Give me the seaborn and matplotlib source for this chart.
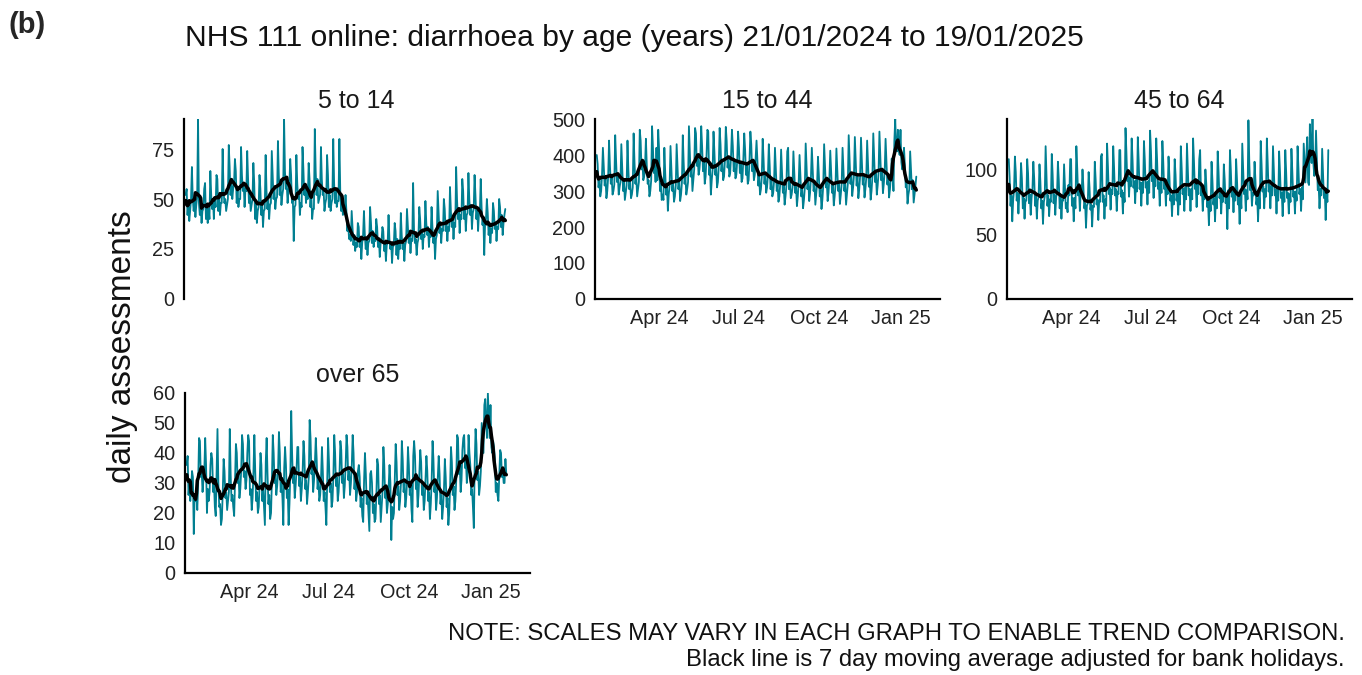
import numpy as np
import pandas as pd
import matplotlib
matplotlib.use("Agg")
import matplotlib.pyplot as plt
import seaborn as sns

# ---------------- data ----------------
start_date = "2024-01-21"
end_date = "2025-01-19"
panel_titles = ["5 to 14", "15 to 44", "45 to 64", "over 65"]
x_tick_dates = ["2024-04-01", "2024-07-01", "2024-10-01", "2025-01-01"]
x_tick_labels = ["Apr 24", "Jul 24", "Oct 24", "Jan 25"]
y_ticks_5_14 = [0, 25, 50, 75]
y_ticks_15_44 = [0, 100, 200, 300, 400, 500]
y_ticks_45_64 = [0, 50, 100]
y_ticks_over_65 = [0, 10, 20, 30, 40, 50, 60]

daily_5_14 = [
    52, 55, 42, 48, 39, 44, 50,
    66, 50, 44, 49, 41, 47, 51,
    90, 48, 42, 46, 38, 44, 45,
    55, 58, 40, 47, 38, 45, 40,
    64, 52, 45, 50, 40, 51, 46,
    62, 60, 44, 52, 42, 48, 48,
    75, 55, 48, 50, 44, 47, 50,
    77, 66, 52, 60, 50, 55, 58,
    70, 64, 48, 55, 46, 50, 50,
    76, 62, 54, 58, 46, 55, 54,
    74, 60, 48, 52, 44, 47, 50,
    68, 58, 40, 48, 38, 44, 46,
    62, 55, 42, 48, 36, 44, 45,
    72, 54, 45, 50, 40, 47, 48,
    74, 62, 50, 56, 45, 50, 51,
    79, 62, 52, 58, 47, 52, 55,
    90, 64, 55, 58, 48, 54, 57,
    70, 62, 48, 50, 29, 46, 47,
    72, 58, 50, 54, 42, 48, 46,
    76, 65, 52, 56, 48, 54, 50,
    68, 60, 46, 52, 40, 45, 45,
    85, 64, 52, 60, 48, 50, 52,
    76, 60, 52, 55, 44, 48, 50,
    72, 62, 46, 52, 44, 48, 50,
    80, 58, 48, 55, 46, 49, 49,
    80, 54, 44, 50, 42, 46, 44,
    52, 44, 34, 38, 30, 32, 29,
    44, 36, 27, 32, 24, 28, 26,
    38, 36, 26, 30, 20, 28, 32,
    44, 32, 25, 30, 22, 28, 29,
    46, 38, 28, 34, 26, 30, 29,
    40, 36, 26, 30, 21, 28, 29,
    36, 34, 24, 28, 19, 27, 28,
    42, 30, 25, 28, 18, 26, 27,
    38, 34, 22, 30, 20, 27, 25,
    43, 32, 25, 28, 19, 27, 29,
    45, 37, 28, 32, 23, 30, 29,
    58, 35, 28, 30, 22, 28, 30,
    46, 40, 30, 34, 25, 32, 31,
    49, 38, 32, 36, 26, 33, 31,
    46, 36, 28, 32, 20, 30, 32,
    54, 44, 33, 38, 28, 35, 34,
    50, 45, 34, 38, 29, 36, 34,
    56, 44, 36, 40, 30, 38, 36,
    66, 50, 40, 45, 33, 42, 40,
    60, 54, 40, 46, 34, 42, 43,
    63, 50, 42, 47, 35, 43, 45,
    62, 52, 40, 45, 34, 43, 43,
    60, 46, 37, 41, 22, 38, 40,
    50, 43, 32, 38, 28, 35, 33,
    48, 44, 35, 38, 29, 36, 35,
    50, 46, 36, 42, 32, 38, 42,
    45,
]

daily_15_44 = [
    400, 375, 310, 330, 285, 300, 345,
    420, 370, 315, 335, 280, 300, 340,
    440, 372, 320, 340, 290, 300, 318,
    455, 385, 325, 345, 290, 310, 326,
    430, 365, 300, 330, 275, 295, 315,
    440, 360, 305, 325, 280, 290, 310,
    460, 380, 320, 340, 285, 305, 325,
    470, 440, 360, 385, 330, 340, 370,
    445, 370, 320, 330, 285, 300, 330,
    480, 420, 350, 370, 325, 420, 330,
    470, 415, 300, 320, 275, 290, 275,
    420, 350, 290, 315, 245, 290, 316,
    425, 360, 300, 320, 270, 285, 315,
    430, 365, 305, 325, 272, 290, 323,
    455, 380, 320, 340, 290, 305, 325,
    480, 410, 340, 370, 300, 330, 360,
    475, 460, 370, 395, 345, 360, 395,
    480, 425, 355, 380, 320, 340, 395,
    470, 465, 345, 365, 290, 330, 360,
    465, 410, 345, 365, 310, 325, 370,
    475, 430, 355, 380, 330, 340, 385,
    478, 440, 365, 390, 340, 350, 400,
    470, 425, 355, 380, 335, 345, 385,
    465, 420, 350, 375, 325, 335, 390,
    460, 415, 345, 370, 320, 330, 385,
    465, 430, 355, 380, 330, 345, 390,
    440, 385, 315, 340, 290, 305, 340,
    445, 390, 320, 345, 295, 310, 345,
    430, 372, 305, 330, 285, 295, 328,
    420, 360, 300, 320, 270, 285, 320,
    415, 355, 295, 315, 262, 285, 313,
    410, 420, 305, 330, 280, 290, 310,
    410, 355, 295, 315, 258, 285, 322,
    400, 345, 285, 305, 252, 275, 308,
    432, 372, 305, 330, 272, 295, 339,
    420, 362, 300, 320, 262, 290, 321,
    395, 345, 285, 305, 250, 275, 315,
    430, 372, 310, 330, 272, 295, 336,
    412, 356, 295, 315, 260, 285, 317,
    418, 362, 300, 320, 264, 290, 321,
    420, 362, 300, 320, 262, 290, 321,
    455, 390, 320, 345, 286, 310, 344,
    450, 384, 315, 340, 280, 305, 341,
    448, 385, 318, 340, 282, 305, 337,
    440, 378, 312, 335, 276, 300, 339,
    460, 395, 325, 350, 290, 315, 350,
    465, 400, 330, 355, 294, 320, 356,
    445, 385, 318, 340, 282, 305, 340,
    390, 360, 300, 440, 500, 420, 410,
    470, 420, 400, 470, 380, 360, 380,
    420, 370, 310, 330, 265, 290, 305,
    410, 360, 305, 330, 268, 290, 313,
    340,
]

daily_45_64 = [
    108, 94, 72, 80, 60, 76, 84,
    110, 98, 76, 82, 66, 80, 83,
    105, 93, 70, 78, 62, 76, 76,
    108, 97, 74, 81, 65, 78, 85,
    106, 93, 72, 79, 62, 76, 79,
    104, 91, 70, 76, 58, 75, 79,
    118, 95, 72, 80, 64, 77, 75,
    112, 96, 74, 81, 65, 79, 81,
    106, 92, 70, 78, 62, 76, 76,
    104, 88, 70, 74, 67, 88, 80,
    108, 108, 72, 78, 60, 78, 70,
    118, 101, 80, 85, 68, 83, 81,
    100, 87, 70, 74, 55, 72, 74,
    98, 86, 69, 73, 56, 72, 71,
    106, 92, 73, 77, 61, 76, 75,
    110, 112, 75, 80, 62, 77, 72,
    120, 102, 81, 86, 69, 84, 81,
    118, 101, 80, 85, 68, 83, 81,
    115, 115, 79, 84, 66, 82, 75,
    132, 114, 91, 96, 79, 94, 87,
    124, 108, 86, 91, 74, 92, 83,
    125, 107, 85, 90, 72, 90, 82,
    122, 107, 86, 90, 73, 91, 82,
    130, 114, 91, 96, 78, 97, 87,
    124, 107, 85, 90, 72, 91, 82,
    122, 106, 85, 89, 72, 89, 81,
    110, 95, 76, 80, 64, 83, 73,
    108, 96, 76, 81, 65, 82, 73,
    118, 101, 81, 85, 68, 86, 77,
    120, 101, 80, 85, 68, 85, 77,
    124, 106, 85, 89, 71, 88, 81,
    108, 115, 80, 85, 68, 83, 77,
    100, 89, 71, 75, 57, 79, 68,
    106, 92, 73, 78, 60, 81, 70,
    114, 98, 78, 82, 66, 82, 75,
    104, 92, 74, 78, 54, 84, 70,
    115, 99, 79, 83, 67, 83, 76,
    108, 92, 73, 78, 58, 81, 70,
    120, 101, 81, 85, 68, 84, 77,
    138, 106, 84, 89, 72, 82, 80,
    106, 92, 73, 78, 60, 81, 70,
    122, 104, 83, 87, 70, 85, 79,
    124, 105, 83, 88, 70, 87, 80,
    118, 100, 80, 84, 66, 85, 76,
    114, 98, 78, 82, 64, 84, 75,
    115, 98, 78, 82, 66, 81, 75,
    116, 99, 79, 83, 66, 83, 76,
    118, 101, 81, 85, 68, 86, 77,
    120, 105, 90, 110, 125, 90, 88,
    135, 118, 105, 139, 105, 95, 100,
    130, 106, 84, 88, 70, 85, 80,
    116, 98, 78, 84, 61, 82, 75,
    115,
]

daily_over_65 = [
    36, 39, 26, 30, 24, 28, 34,
    32, 13, 26, 24, 26, 21, 30,
    45, 44, 32, 34, 27, 31, 34,
    45, 36, 20, 28, 24, 27, 36,
    40, 38, 27, 30, 22, 19, 34,
    48, 30, 22, 23, 16, 18, 27,
    38, 34, 25, 27, 21, 24, 27,
    48, 33, 24, 26, 22, 19, 31,
    43, 40, 30, 33, 25, 28, 34,
    46, 43, 32, 34, 28, 31, 40,
    46, 44, 26, 28, 21, 25, 34,
    46, 34, 24, 27, 20, 22, 30,
    40, 36, 24, 28, 22, 16, 37,
    45, 33, 23, 26, 18, 20, 31,
    46, 40, 30, 33, 26, 29, 34,
    47, 40, 27, 30, 25, 16, 35,
    42, 36, 25, 28, 16, 23, 33,
    54, 40, 30, 33, 25, 29, 34,
    42, 42, 29, 32, 24, 28, 34,
    44, 39, 28, 31, 23, 27, 32,
    51, 45, 33, 35, 27, 31, 37,
    45, 38, 28, 31, 24, 26, 32,
    42, 34, 24, 27, 22, 16, 31,
    45, 37, 27, 30, 22, 24, 32,
    46, 40, 29, 32, 24, 27, 33,
    44, 41, 30, 33, 25, 29, 36,
    46, 42, 31, 34, 26, 30, 36,
    46, 40, 28, 32, 24, 27, 34,
    36, 32, 22, 25, 19, 17, 31,
    40, 33, 23, 26, 20, 14, 33,
    34, 30, 20, 23, 17, 18, 26,
    38, 36, 23, 26, 17, 22, 27,
    42, 36, 25, 28, 20, 23, 29,
    36, 30, 11, 22, 18, 20, 31,
    43, 37, 26, 29, 21, 24, 30,
    44, 38, 27, 30, 22, 25, 31,
    42, 36, 26, 29, 21, 17, 39,
    44, 39, 28, 31, 22, 26, 34,
    41, 37, 26, 29, 21, 24, 32,
    39, 34, 24, 27, 18, 23, 31,
    44, 38, 27, 30, 21, 25, 32,
    39, 33, 23, 26, 18, 22, 28,
    38, 32, 22, 25, 16, 20, 29,
    42, 37, 26, 29, 21, 24, 31,
    46, 45, 33, 36, 27, 31, 41,
    45, 46, 35, 38, 30, 33, 46,
    40, 36, 26, 28, 22, 15, 36,
    48, 43, 31, 34, 26, 29, 34,
    50, 45, 40, 56, 58, 50, 45,
    60, 52, 45, 56, 42, 40, 44,
    42, 38, 27, 30, 26, 24, 33,
    41, 40, 32, 34, 30, 30, 38,
    33,
]

# ---------------- build table ----------------
dates = pd.date_range(start_date, end_date, freq="D")
series = [daily_5_14, daily_15_44, daily_45_64, daily_over_65]
frames = []
for title, vals in zip(panel_titles, series):
    df = pd.DataFrame({"date": dates, "value": vals, "age": title})
    df["ma"] = df["value"].rolling(7, center=True, min_periods=1).mean()
    frames.append(df)
data = pd.concat(frames, ignore_index=True)

# ---------------- style ----------------
sns.set_style("white")
plt.rcParams["font.family"] = ["Liberation Sans", "DejaVu Sans"]

TEAL = "#007F91"
W, H = 1362, 675
fig = plt.figure(figsize=(W / 100, H / 100), dpi=100)

# panel boxes in pixels: left, right, top, bottom
boxes = [
    (184, 529, 119, 299),
    (595, 940, 119, 299),
    (1007, 1352, 119, 299),
    (185, 530, 393, 573),
]
yticks_all = [y_ticks_5_14, y_ticks_15_44, y_ticks_45_64, y_ticks_over_65]
xlim = (pd.Timestamp("2024-01-19"), pd.Timestamp("2025-02-15"))

for i, (title, box, yt) in enumerate(zip(panel_titles, boxes, yticks_all)):
    l, r, t, b = box
    ax = fig.add_axes([l / W, 1 - b / H, (r - l) / W, (b - t) / H])
    sub = data[data["age"] == title]
    sns.lineplot(data=sub, x="date", y="value", ax=ax, color=TEAL,
                 linewidth=1.3, estimator=None)
    sns.lineplot(data=sub, x="date", y="ma", ax=ax, color="black",
                 linewidth=2.5, estimator=None)
    ax.set_xlim(*xlim)
    ax.set_ylim(0, sub["value"].max())
    ax.set_yticks(yt)
    ax.set_xlabel("")
    ax.set_ylabel("")
    for s in ["top", "right"]:
        ax.spines[s].set_visible(False)
    for s in ["left", "bottom"]:
        ax.spines[s].set_linewidth(1.6)
        ax.spines[s].set_color("black")
    ax.tick_params(axis="both", direction="out", length=4, width=1.2,
                   color="black", labelsize=14.3, labelcolor="#222222", pad=3)
    ax.set_xticks(pd.to_datetime(x_tick_dates))
    if i == 0:
        ax.spines["bottom"].set_visible(False)
        ax.tick_params(axis="x", bottom=False, labelbottom=False)
    else:
        ax.set_xticklabels(x_tick_labels)
    ax.set_title(title, fontsize=18, color="#1a1a1a", pad=8)
    ax.patch.set_alpha(0)

fig.text(8 / W, 1 - 25 / H, "(b)", fontsize=21, fontweight="bold",
         ha="left", va="center")
fig.text(185 / W, 1 - 38 / H,
         "NHS 111 online: diarrhoea by age (years) 21/01/2024 to 19/01/2025",
         fontsize=21.6, ha="left", va="center", color="#111111")
fig.text(122 / W, 1 - 347 / H, "daily assessments", fontsize=24,
         rotation=90, ha="center", va="center", color="#111111")
fig.text(1345 / W, 1 - 634 / H,
         "NOTE: SCALES MAY VARY IN EACH GRAPH TO ENABLE TREND COMPARISON.",
         fontsize=17.2, ha="right", va="center", color="#111111")
fig.text(1345 / W, 1 - 660 / H,
         "Black line is 7 day moving average adjusted for bank holidays.",
         fontsize=17.2, ha="right", va="center", color="#111111")

fig.savefig("out.png", dpi=100)
